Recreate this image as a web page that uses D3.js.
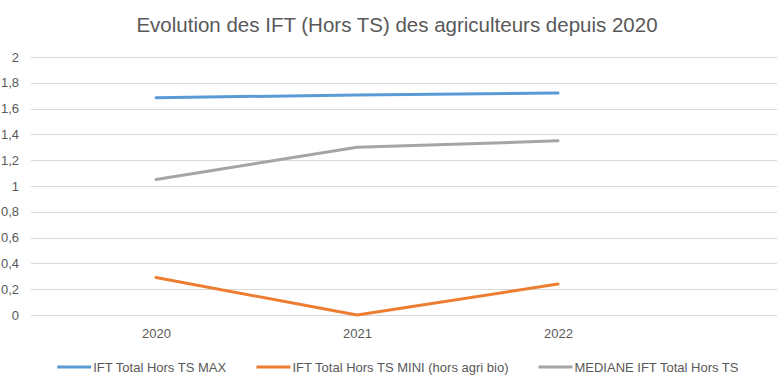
<!DOCTYPE html>
<html>
<head>
<meta charset="utf-8">
<script src="https://cdn.jsdelivr.net/npm/d3@7"></script>
<style>
  body { margin: 0; background: #fff; }
  svg { display: block; font-family: "Liberation Sans", "DejaVu Sans", sans-serif; }
</style>
</head>
<body>
<svg width="778" height="385"></svg>
<script>
// data
var years = ["2020", "2021", "2022"];
var seriesNames = ["IFT Total Hors TS MAX", "IFT Total Hors TS MINI (hors agri bio)", "MEDIANE IFT Total Hors TS"];
var iftMax = [1.685, 1.705, 1.72];
var iftMini = [0.29, 0.0, 0.24];
var mediane = [1.05, 1.30, 1.35];
var yTicks = [0, 0.2, 0.4, 0.6, 0.8, 1, 1.2, 1.4, 1.6, 1.8, 2];

var colors = ["#5B9BD5", "#ED7D31", "#A5A5A5"];
var allSeries = [iftMax, iftMini, mediane];

var svg = d3.select("svg"),
    width = +svg.attr("width"),
    height = +svg.attr("height");

var fr = d3.formatLocale({decimal: ",", thousands: " ", grouping: [3], currency: ["", " €"]});
var fmt = fr.format(".1~f");

var gridLeft = 31, gridRight = 777;

var x = d3.scalePoint()
    .domain(years)
    .range([156, 558]);

var y = d3.scaleLinear()
    .domain([0, 2])
    .range([315, 57]);

// title
svg.append("text")
    .attr("x", 397)
    .attr("y", 32)
    .attr("text-anchor", "middle")
    .attr("fill", "#595959")
    .style("font-size", "20.5px")
    .text("Evolution des IFT (Hors TS) des agriculteurs depuis 2020");

// gridlines
svg.append("g")
    .attr("class", "grid")
    .selectAll("line")
    .data(yTicks)
    .enter().append("line")
    .attr("x1", gridLeft)
    .attr("x2", gridRight)
    .attr("y1", function(d) { return Math.round(y(d)) + 0.5; })
    .attr("y2", function(d) { return Math.round(y(d)) + 0.5; })
    .attr("stroke", "#D9D9D9")
    .attr("stroke-width", 1);

// y axis labels
var yAxis = svg.append("g")
    .attr("transform", "translate(19,0)")
    .call(d3.axisLeft(y).tickValues(yTicks).tickFormat(fmt).tickSize(0).tickPadding(0));
yAxis.select(".domain").remove();
yAxis.selectAll("text")
    .attr("fill", "#595959")
    .style("font-size", "13px")
    .style("font-family", "Liberation Sans, sans-serif");

// x axis labels
var xAxis = svg.append("g")
    .attr("transform", "translate(0,329)")
    .call(d3.axisBottom(x).tickSize(0).tickPadding(0));
xAxis.select(".domain").remove();
xAxis.selectAll("text")
    .attr("fill", "#595959")
    .style("font-size", "13px")
    .style("font-family", "Liberation Sans, sans-serif");

// lines
var line = d3.line()
    .x(function(d, i) { return x(years[i]); })
    .y(function(d) { return y(d); });

svg.append("g")
    .attr("class", "lines")
    .selectAll("path")
    .data(allSeries)
    .enter().append("path")
    .attr("d", line)
    .attr("fill", "none")
    .attr("stroke", function(d, i) { return colors[i]; })
    .attr("stroke-width", 3)
    .attr("stroke-linecap", "round")
    .attr("stroke-linejoin", "round");

// legend
var legend = svg.append("g").attr("class", "legend");
var items = legend.selectAll("g")
    .data(seriesNames)
    .enter().append("g");

items.append("line")
    .attr("x1", 0)
    .attr("x2", 34)
    .attr("y1", 0)
    .attr("y2", 0)
    .attr("stroke", function(d, i) { return colors[i]; })
    .attr("stroke-width", 3);

items.append("text")
    .attr("x", 36)
    .attr("y", 4.5)
    .attr("fill", "#595959")
    .style("font-size", "13px")
    .text(function(d) { return d; });

// lay the legend items out side by side, centred
var gap = 30, xPos = 0, offsets = [];
items.each(function() {
    offsets.push(xPos);
    xPos += this.getBBox().width + gap;
});
var total = xPos - gap;
var start = 398 - total / 2;
items.attr("transform", function(d, i) { return "translate(" + (start + offsets[i]) + ",367)"; });
</script>
</body>
</html>
